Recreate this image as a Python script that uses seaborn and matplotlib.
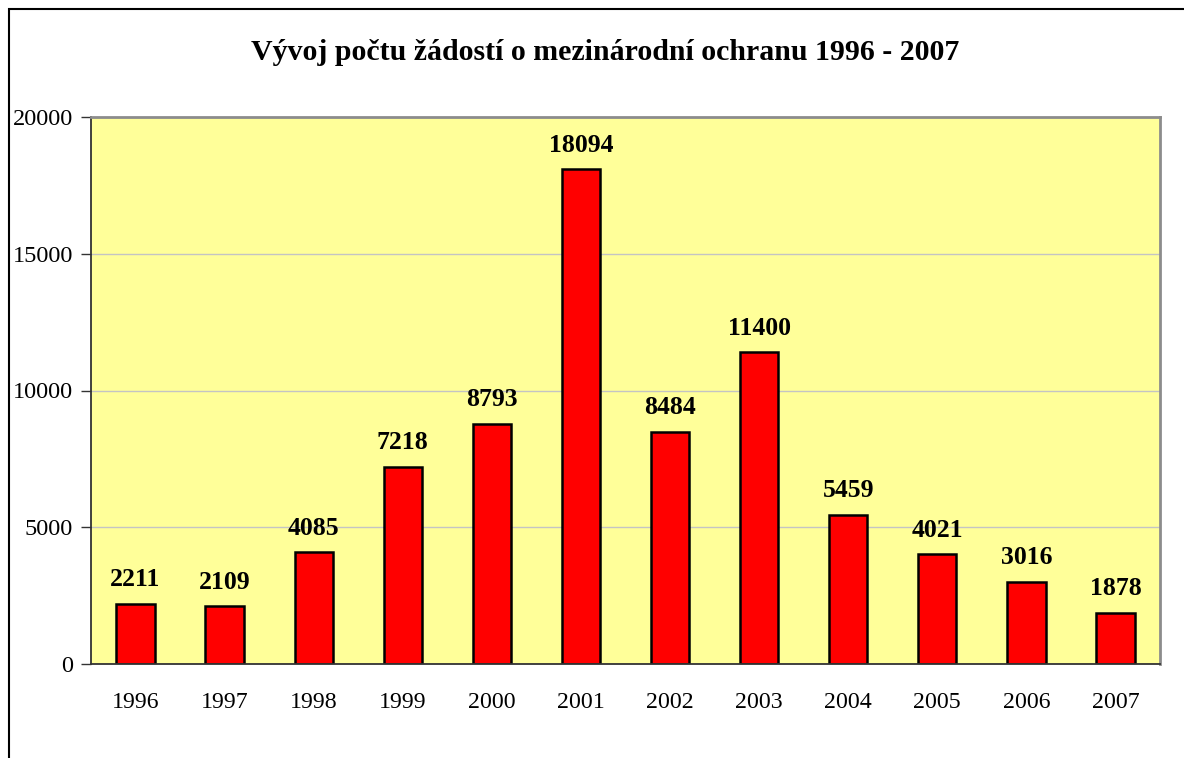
import matplotlib
matplotlib.use("Agg")
import matplotlib.pyplot as plt
from matplotlib.patches import Rectangle
import seaborn as sns
import numpy as np
import pandas as pd

years = ["1996", "1997", "1998", "1999", "2000", "2001",
         "2002", "2003", "2004", "2005", "2006", "2007"]
requests = [2211, 2109, 4085, 7218, 8793, 18094,
            8484, 11400, 5459, 4021, 3016, 1878]
yticks = [0, 5000, 10000, 15000, 20000]
title = "Vývoj počtu žádostí o mezinárodní ochranu 1996 - 2007"

df = pd.DataFrame({"rok": years, "pocet": requests})

sns.set_style("white")
plt.rcParams["font.family"] = ["Liberation Serif", "DejaVu Serif"]
plt.rcParams["text.color"] = "black"
plt.rcParams["xtick.labelcolor"] = "black"
plt.rcParams["ytick.labelcolor"] = "black"

fig = plt.figure(figsize=(11.84, 7.58), dpi=100)
ax = fig.add_axes([91 / 1184, 1 - 664 / 758, 1069 / 1184, 547 / 758])
ax.set_facecolor("#FFFF99")

sns.barplot(data=df, x="rok", y="pocet", color="#FF0000", saturation=1,
            edgecolor="black", linewidth=1.8, width=0.43, ax=ax)

for i, v in enumerate(requests):
    ax.annotate(str(v), (i, v), xytext=(0, 9), textcoords="offset points",
                ha="center", va="bottom", fontsize=18.5, fontweight="bold",
                color="black")

ax.set_ylim(0, 20000)
ax.set_xlim(-0.5, len(years) - 0.5)
ax.set_yticks(yticks)
ax.set_yticklabels([str(t) for t in yticks], fontsize=17.5)
ax.yaxis.grid(True, color="#C4C4C4", linewidth=1)
ax.set_axisbelow(True)
ax.set_xlabel("")
ax.set_ylabel("")

# ticks between categories, labels centered
ax.set_xticks(np.arange(-0.5, len(years), 1), minor=True)
ax.tick_params(axis="x", which="minor", length=7, width=1, color="#333333",
               direction="out")
ax.tick_params(axis="x", which="major", length=0, pad=20, labelsize=17.2)
ax.tick_params(axis="y", length=7, width=1, color="#333333", direction="out",
               pad=6, left=True)

for s in ["left", "bottom"]:
    ax.spines[s].set_color("#333333")
    ax.spines[s].set_linewidth(1.3)
for s in ["top", "right"]:
    ax.spines[s].set_visible(True)
    ax.spines[s].set_color("#8C8C8C")
    ax.spines[s].set_linewidth(2)

fig.text(605 / 1184, 1 - 52 / 758, title, ha="center", va="center",
         fontsize=21.5, fontweight="bold")

# outer chart frame (cut off at the right and bottom edges)
fig.patches.append(Rectangle((9 / 1184, -0.1), 1.2, 1 - 9 / 758 + 0.1,
                             transform=fig.transFigure, fill=False,
                             edgecolor="black", linewidth=1.5))

fig.savefig("out.png", dpi=100)
